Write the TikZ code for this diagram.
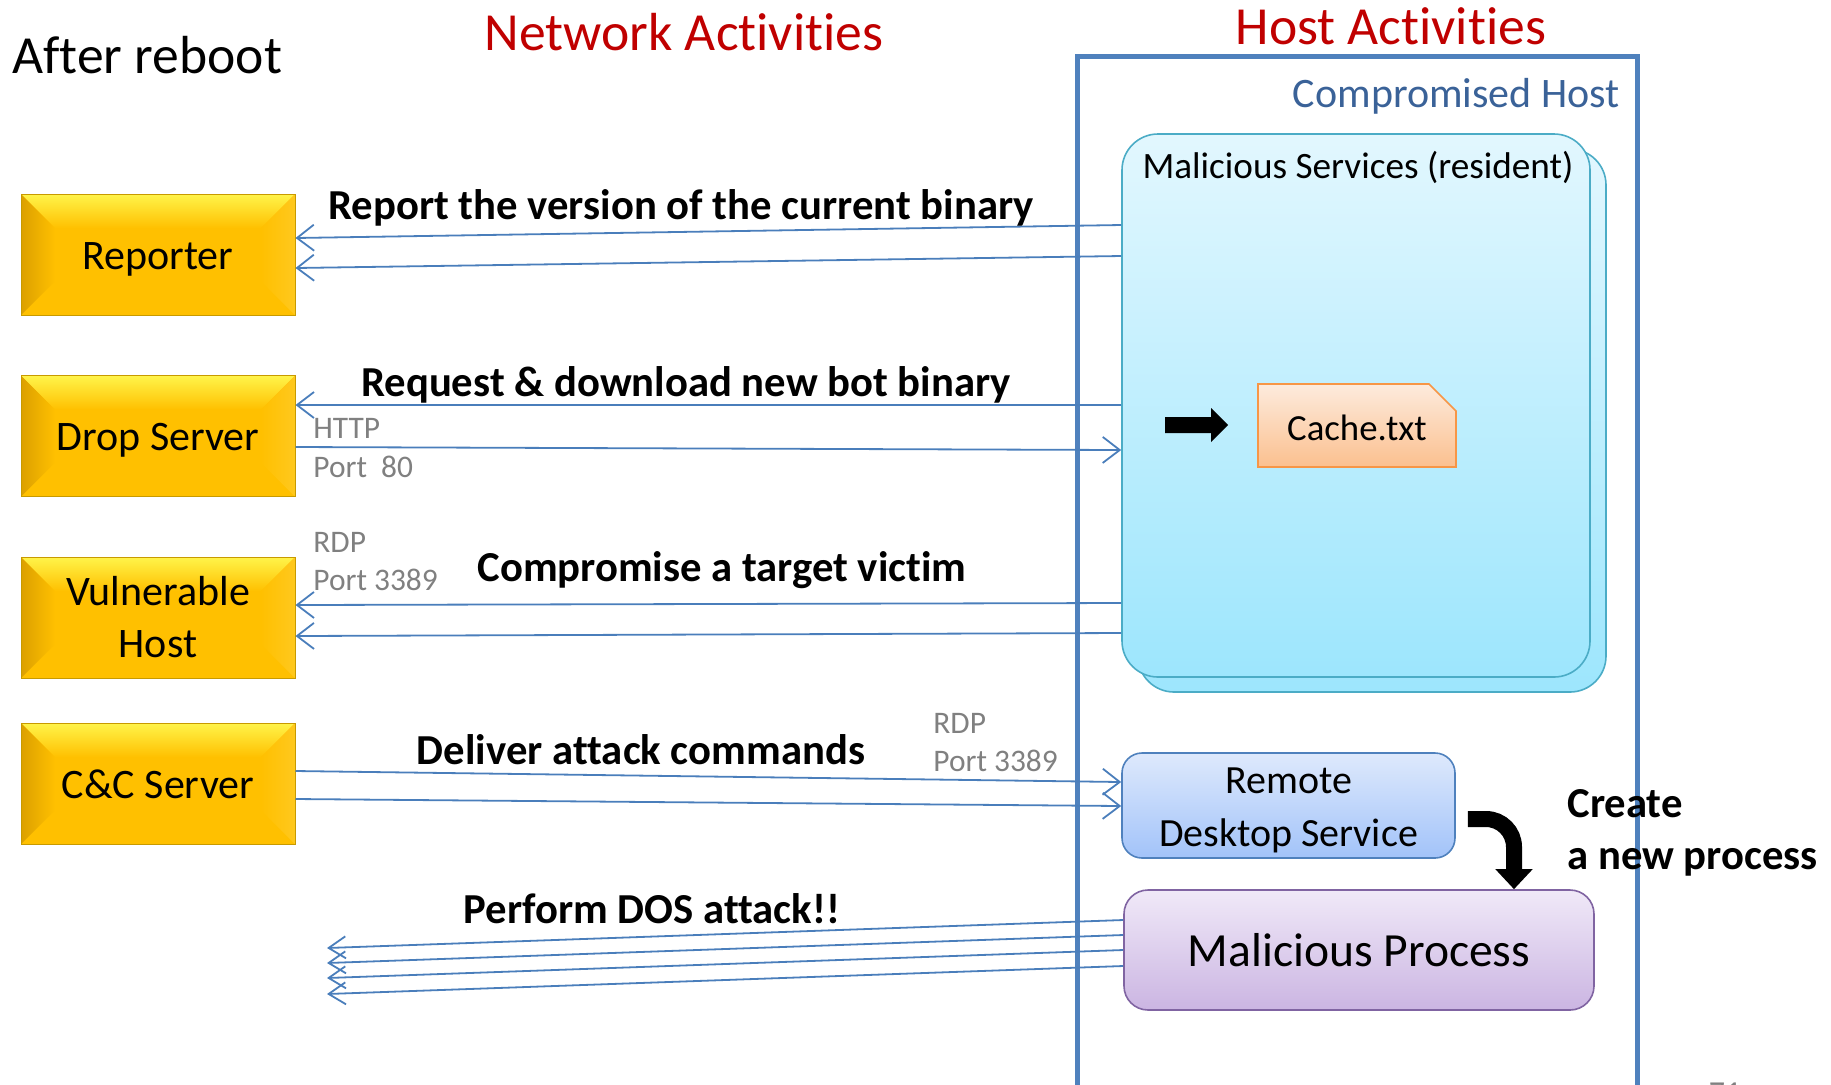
\documentclass[tikz,border=0pt]{standalone}
\usepackage{fontspec}
\setmainfont{Carlito}[Ligatures=NoCommon]
\usetikzlibrary{arrows.meta,shapes.misc}

\definecolor{gold}{HTML}{FFC000}
\definecolor{goldtop}{HTML}{FFF44A}
\definecolor{goldleft}{HTML}{DCA000}
\definecolor{goldright}{HTML}{FFC81E}
\definecolor{goldedge}{HTML}{C89A00}
\definecolor{linkblue}{HTML}{4A7EBB}
\definecolor{hostblue}{HTML}{4F81BD}
\definecolor{hosttext}{HTML}{3A6298}
\definecolor{titlered}{HTML}{C00000}
\definecolor{svcedge}{HTML}{4BACC6}
\definecolor{svctop}{HTML}{E2F7FE}
\definecolor{svcbot}{HTML}{9DE6FD}
\definecolor{cacheedge}{HTML}{F79646}
\definecolor{cachetop}{HTML}{FDEBDD}
\definecolor{cachebot}{HTML}{FBC08F}
\definecolor{rdsedge}{HTML}{4F81BD}
\definecolor{rdstop}{HTML}{DEE9FC}
\definecolor{rdsbot}{HTML}{A2C3F9}
\definecolor{mpedge}{HTML}{8064A2}
\definecolor{mptop}{HTML}{F0E9F8}
\definecolor{mpbot}{HTML}{CBB5E2}
\definecolor{portgray}{HTML}{808080}

% lower a line of text without changing the size it reports
\newcommand\lowered[2]{\raisebox{-#1}[\height][\depth]{#2}}

\begin{document}
\begin{tikzpicture}[x=0.5pt,y=-0.5pt,
  headline/.style={inner sep=0pt, font=\fontsize{26.8}{31}\selectfont},
  ybox/.style={rectangle, minimum width=137pt, minimum height=60.5pt, inner sep=0pt,
    fill=gold, draw=goldedge, line width=0.5pt, align=center,
    font=\fontsize{21}{26}\selectfont,
    path picture={
      \coordinate (pnw) at (path picture bounding box.north west);
      \coordinate (pne) at (path picture bounding box.north east);
      \coordinate (psw) at (path picture bounding box.south west);
      \coordinate (pse) at (path picture bounding box.south east);
      \shade[top color=goldtop, bottom color=gold]
        (pnw) -- (pne) -- ([shift={(-17pt,-17pt)}]pne) -- ([shift={(17pt,-17pt)}]pnw) -- cycle;
      \shade[left color=goldleft, right color=gold]
        (pnw) -- ([shift={(17pt,-17pt)}]pnw) -- ([shift={(17pt,17pt)}]psw) -- (psw) -- cycle;
      \shade[left color=gold, right color=goldright]
        (pne) -- ([shift={(-17pt,-17pt)}]pne) -- ([shift={(-17pt,17pt)}]pse) -- (pse) -- cycle;
    }},
  oneline/.style={text height=19pt, text depth=4.5pt},
  svcbox/.style={rectangle, rounded corners=18pt, minimum width=234pt, minimum height=271.5pt,
    draw=svcedge, line width=0.8pt, top color=svctop, bottom color=svcbot},
  flow/.style={draw=linkblue, line width=0.9pt, -{Straight Barb[length=8.5pt,width=13pt]}},
  dosflow/.style={draw=linkblue, line width=0.9pt, -{Straight Barb[length=8.5pt,width=11pt]}},
  actlabel/.style={inner sep=0pt, font=\bfseries\fontsize{21.35}{26}\selectfont},
  portlabel/.style={inner sep=0pt, anchor=west, text=portgray, font=\fontsize{15.7}{19}\selectfont},
]
\useasboundingbox (0,0) rectangle (1831,1084);

% headings
\node[headline, anchor=west] (reboot) at (12,55) {After reboot};
\node[headline, text=titlered] (netact) at (684,32) {Network Activities};
\node[headline, text=titlered] (hostact) at (1391,26) {Host Activities};

% compromised host frame (runs off the lower edge)
\node[draw=hostblue, line width=2.5pt, minimum width=280pt, minimum height=537pt, inner sep=0pt]
  (host) at (1357,593) {};
\node[inner sep=0pt, anchor=east, text=hosttext, font=\fontsize{21}{25}\selectfont]
  (hostname) at (1620,96) {Compromised Host};

% resident malicious services (stacked)
\node[svcbox] (msback) at (1372,420.5) {};
\node[svcbox] (ms) at (1356,405.5) {};
\node[inner sep=0pt, font=\fontsize{18.6}{22}\selectfont] (mstitle) at (1358,167)
  {Malicious Services (resident)};

% block arrow and cache file
\fill (1165,417) -- (1211,417) -- (1211,408) -- (1228,425) -- (1211,442) -- (1211,433) -- (1165,433) -- cycle;
\node[chamfered rectangle, chamfered rectangle corners=north east,
  chamfered rectangle xsep=7pt, chamfered rectangle ysep=7pt,
  minimum width=99pt, minimum height=41.5pt, inner sep=0pt,
  draw=cacheedge, line width=0.8pt, top color=cachetop, bottom color=cachebot,
  font=\fontsize{18.4}{22}\selectfont] (cache) at (1357,425.5) {\lowered{1pt}{Cache.txt}};

% remote desktop service and spawned process
\node[rectangle, rounded corners=10pt, minimum width=166.5pt, minimum height=52.5pt,
  inner sep=0pt, align=center, draw=rdsedge, line width=0.8pt,
  top color=rdstop, bottom color=rdsbot, font=\fontsize{20}{26.5}\selectfont]
  (rds) at (1288.5,805.5) {\lowered{2.5pt}{Remote}\\\lowered{2.5pt}{Desktop Service}};
\node[rectangle, rounded corners=12pt, minimum width=235pt, minimum height=60pt,
  inner sep=0pt, draw=mpedge, line width=0.8pt,
  top color=mptop, bottom color=mpbot, font=\fontsize{23.8}{28}\selectfont]
  (mp) at (1359,950) {Malicious Process};
\draw[line width=8pt, rounded corners=14pt, -{Triangle[length=10pt,width=18pt]}]
  (rds.east |- 0,819) ++(12,0) -- (1514,819) -- (mp.north -| 1514,0);
\node[actlabel, anchor=west, align=left] (create) at (1567,833) {Create\\a new process};

% external hosts
\node[ybox, oneline] (rep) at (158,254.5) {Reporter};
\node[ybox, oneline] (drop) at (158,436) {Drop Server};
\node[ybox] (vuln) at (158,617.5) {Vulnerable\\Host};
\node[ybox, oneline] (cc) at (158,783.5) {C\&C Server};

% network activities
\draw[flow] (ms.west |- 0,225) -- (rep.east |- 0,238);
\draw[flow] (ms.west |- 0,256) -- (rep.east |- 0,268);
\node[actlabel] (lreport) at (681,207.5) {Report the version of the current binary};

\draw[flow] (ms.west |- 0,405) -- (drop.east |- 0,405);
\draw[flow] (drop.east |- 0,447) -- (ms.west |- 0,450);
\node[actlabel] (lrequest) at (686,384.5) {Request \& download new bot binary};
\node[portlabel] (http) at (313,428) {HTTP};
\node[portlabel] (port80) at (313,467) {Port\ \ 80};

\draw[flow] (ms.west |- 0,603) -- (vuln.east |- 0,605);
\draw[flow] (ms.west |- 0,633) -- (vuln.east |- 0,636);
\node[actlabel] (lcompromise) at (722,570.5) {Compromise a target victim};
\node[portlabel] (rdpa) at (313,542) {RDP};
\node[portlabel] (porta) at (313,580) {Port 3389};

\draw[flow] (cc.east |- 0,771) -- (rds.west |- 0,782);
\draw[flow] (cc.east |- 0,799) -- (rds.west |- 0,806);
\node[actlabel] (ldeliver) at (641,750) {Deliver attack commands};
\node[portlabel] (rdpb) at (933,723) {RDP};
\node[portlabel] (portb) at (933,761) {Port 3389};

\coordinate (dos1) at (327,948);
\coordinate (dos2) at (327,963);
\coordinate (dos3) at (327,978);
\coordinate (dos4) at (327,994);
\draw[dosflow] (mp.west |- 0,920) -- (dos1);
\draw[dosflow] (mp.west |- 0,935) -- (dos2);
\draw[dosflow] (mp.west |- 0,950) -- (dos3);
\draw[dosflow] (mp.west |- 0,966) -- (dos4);
\node[actlabel] (ldos) at (652,909) {Perform DOS attack!!};

% page number, cut by the lower edge
\node[inner sep=0pt, text=portgray, font=\fontsize{16}{19}\selectfont] (pagenum) at (1725,1093) {71};
\end{tikzpicture}
\end{document}
